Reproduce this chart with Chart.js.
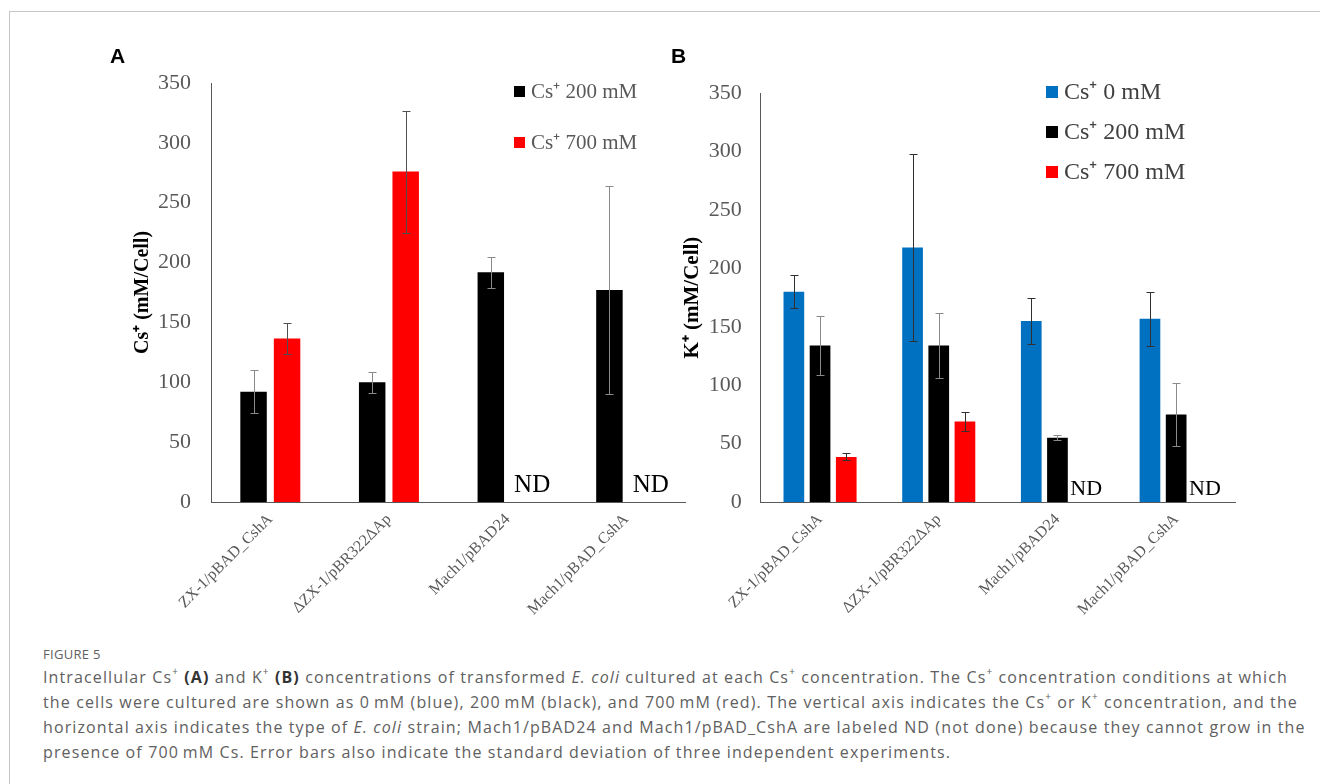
<!DOCTYPE html>
<html>
<head>
<meta charset="utf-8">
<script src="https://cdn.jsdelivr.net/npm/chart.js@4"></script>
<style>
html,body{margin:0;padding:0;background:#fff;}
body{width:1320px;height:784px;position:relative;overflow:hidden;}
#frame{position:absolute;left:9px;top:11px;width:1400px;height:900px;border-top:1px solid #c6c6c6;border-left:1px solid #c6c6c6;}
canvas{position:absolute;top:0;}
#ca{left:0;}
#cb{left:640px;}
.plab{position:absolute;top:45px;font:bold 21px 'Liberation Sans',Arial,sans-serif;line-height:21px;color:#000;}
#cap{position:absolute;left:43px;top:0;font-family:'Open Sans',sans-serif;color:#606060;white-space:nowrap;}
#cap .fig{position:absolute;top:645px;font-size:13px;line-height:18px;letter-spacing:.3px;}
#cap .ln{position:absolute;font-size:16px;line-height:26px;}
#cap b{color:#333;}
#cap sup{font-size:.62em;line-height:0;position:relative;top:-.15em;vertical-align:super;}
</style>
</head>
<body>
<div id="frame"></div>
<canvas id="ca" width="700" height="640"></canvas>
<canvas id="cb" width="680" height="640"></canvas>
<div class="plab" style="left:110px">A</div>
<div class="plab" style="left:671px">B</div>
<div id="cap">
  <div class="fig">FIGURE 5</div>
  <div class="ln" style="top:664px">Intracellular Cs<sup>+</sup> <b>(A)</b> and K<sup>+</sup> <b>(B)</b> concentrations of transformed <i>E. coli</i> cultured at each Cs<sup>+</sup> concentration. The Cs<sup>+</sup> concentration conditions at which</div>
  <div class="ln" style="top:689px">the cells were cultured are shown as 0&thinsp;mM (blue), 200&thinsp;mM (black), and 700&thinsp;mM (red). The vertical axis indicates the Cs<sup>+</sup> or K<sup>+</sup> concentration, and the</div>
  <div class="ln" style="top:714px">horizontal axis indicates the type of <i>E. coli</i> strain; Mach1/pBAD24 and Mach1/pBAD_CshA are labeled ND (not done) because they cannot grow in the</div>
  <div class="ln" style="top:739px">presence of 700&thinsp;mM Cs. Error bars also indicate the standard deviation of three independent experiments.</div>
</div>
<script>
/* ---------- data ---------- */
const strains=['ZX-1/pBAD_CshA','ΔZX-1/pBR322ΔAp','Mach1/pBAD24','Mach1/pBAD_CshA'];
const yTicks=[0,50,100,150,200,250,300,350];

// panel A : intracellular Cs+
const csIn200   =[92,100,192,177];
const csIn200Err=[18,8.6,13,87];
const csIn700   =[136.5,276,null,null];
const csIn700Err=[13,51,null,null];

// panel B : intracellular K+
const kIn0     =[180,218,155,157];
const kIn0Err  =[14,80,20,23];
const kIn200   =[134,134,55,75];
const kIn200Err=[25,27.5,2.3,27];
const kIn700   =[38.6,69,null,null];
const kIn700Err=[3,8.3,null,null];

const BLUE='#0070c0', BLACK='#000000', RED='#ff0000';
const SERIF="'Liberation Serif','Times New Roman',serif";

/* ---------- plugins ---------- */
const errBars={id:'errBars',afterDatasetsDraw(chart,args,o){
  const ctx=chart.ctx, ys=chart.scales.y;
  chart.data.datasets.forEach((ds,di)=>{
    const meta=chart.getDatasetMeta(di);
    ds.err.forEach((e,i)=>{
      const v=ds.data[i]; if(v==null||e==null)return;
      const x=Math.round(meta.data[i].x)+.5,
            y1=Math.round(ys.getPixelForValue(v+e))+.5,
            y2=Math.round(ys.getPixelForValue(v-e))+.5;
      ctx.save();ctx.strokeStyle=ds.errColor;ctx.lineWidth=1;ctx.beginPath();
      ctx.moveTo(x,y1);ctx.lineTo(x,y2);
      ctx.moveTo(x-o.cap,y1);ctx.lineTo(x+o.cap,y1);
      ctx.moveTo(x-o.cap,y2);ctx.lineTo(x+o.cap,y2);
      ctx.stroke();ctx.restore();
    });
  });
}};

const ndMark={id:'ndMark',afterDatasetsDraw(chart,args,o){
  const ctx=chart.ctx;
  chart.data.datasets.forEach((ds,di)=>{
    const meta=chart.getDatasetMeta(di);
    ds.data.forEach((v,i)=>{
      if(v!=null)return;
      const el=meta.data[i]; if(!el||!isFinite(el.x))return;
      ctx.save();ctx.font=o.size+'px '+SERIF;ctx.fillStyle='#000';
      ctx.textAlign='left';ctx.textBaseline='alphabetic';
      ctx.fillText('ND',el.x-el.width/2+o.dx,chart.chartArea.bottom-o.lift);
      ctx.restore();
    });
  });
}};

const boxLegend={id:'boxLegend',afterDraw(chart,args,o){
  const ctx=chart.ctx;
  chart.data.datasets.forEach((ds,i)=>{
    const cy=o.y0+i*o.dy;
    ctx.save();
    ctx.fillStyle=ds.backgroundColor;ctx.fillRect(o.x,Math.round(cy-o.box/2),o.box,o.box);
    ctx.font=o.size+'px '+SERIF;ctx.fillStyle=o.color;ctx.textBaseline='middle';ctx.textAlign='left';
    ctx.fillText(ds.label,o.x+o.box+o.gap,cy+1);
    ctx.restore();
  });
}};

/* ---------- chart builder ---------- */
function panel(id,datasets,p){
  return new Chart(document.getElementById(id),{
    type:'bar',
    data:{labels:strains,datasets:datasets.map(d=>({
      label:d.label,data:d.data,err:d.err,errColor:d.errColor,backgroundColor:d.color,borderWidth:0,
      categoryPercentage:p.cat,barPercentage:.79
    }))},
    options:{
      responsive:false,animation:false,
      layout:{padding:{left:p.padL,top:p.top,right:p.padR,bottom:0}},
      plugins:{legend:{display:false},tooltip:{enabled:false},
        errBars:{cap:4},
        ndMark:{size:p.ndSize,dx:p.ndDx,lift:p.ndLift},
        boxLegend:p.legend},
      scales:{
        x:{grid:{display:false,drawTicks:false},border:{color:'#595959'},
           ticks:{color:'#595959',font:{family:SERIF,size:16},minRotation:45,maxRotation:45,autoSkip:false,padding:8},
           afterFit(s){s.height=138;}},
        y:{min:0,max:350,afterBuildTicks(s){s.ticks=yTicks.map(v=>({value:v}));},
           grid:{display:false,drawTicks:false},border:{color:'#595959'},
           ticks:{color:'#595959',font:{family:SERIF,size:p.tickSize},padding:p.tickPad},
           title:{display:true,text:p.title,color:'#000',font:{family:SERIF,size:p.titleSize,weight:'bold'},padding:{top:p.titlePad,bottom:0}},
           afterFit(s){s.width=p.yW;}}
      }
    },
    plugins:[errBars,ndMark,boxLegend]
  });
}

panel('ca',[
  {label:'Cs⁺ 200 mM',data:csIn200,err:csIn200Err,color:BLACK,errColor:'#8a8a8a'},
  {label:'Cs⁺ 700 mM',data:csIn700,err:csIn700Err,color:RED,errColor:'#505050'}
],{cat:.565,padL:120,yW:91,top:83,padR:14.5,tickSize:22,tickPad:20,
   title:'Cs⁺ (mM/Cell)',titleSize:20,titlePad:11,
   ndSize:25,ndDx:3,ndLift:10,
   legend:{x:514,y0:91,dy:51,box:11,gap:6,size:21,color:'#595959'}});

panel('cb',[
  {label:'Cs⁺ 0 mM',data:kIn0,err:kIn0Err,color:BLUE,errColor:'#303030'},
  {label:'Cs⁺ 200 mM',data:kIn200,err:kIn200Err,color:BLACK,errColor:'#8a8a8a'},
  {label:'Cs⁺ 700 mM',data:kIn700,err:kIn700Err,color:RED,errColor:'#303030'}
],{cat:.662,padL:30,yW:90.7,top:93.3,padR:84.5,tickSize:22,tickPad:19,
   title:'K⁺ (mM/Cell)',titleSize:21,titlePad:10,
   ndSize:22,ndDx:-3,ndLift:7,
   legend:{x:406,y0:92,dy:40,box:12,gap:6,size:24,color:'#404040'}});

/* caption: spread the letters so the longest line reaches the right margin */
const capLines=[...document.querySelectorAll('#cap .ln')];
const wLong=capLines[2].getBoundingClientRect().width;
const ls=(1262-wLong)/capLines[2].textContent.length;
capLines.forEach(l=>l.style.letterSpacing=ls.toFixed(2)+'px');
</script>
</body>
</html>
